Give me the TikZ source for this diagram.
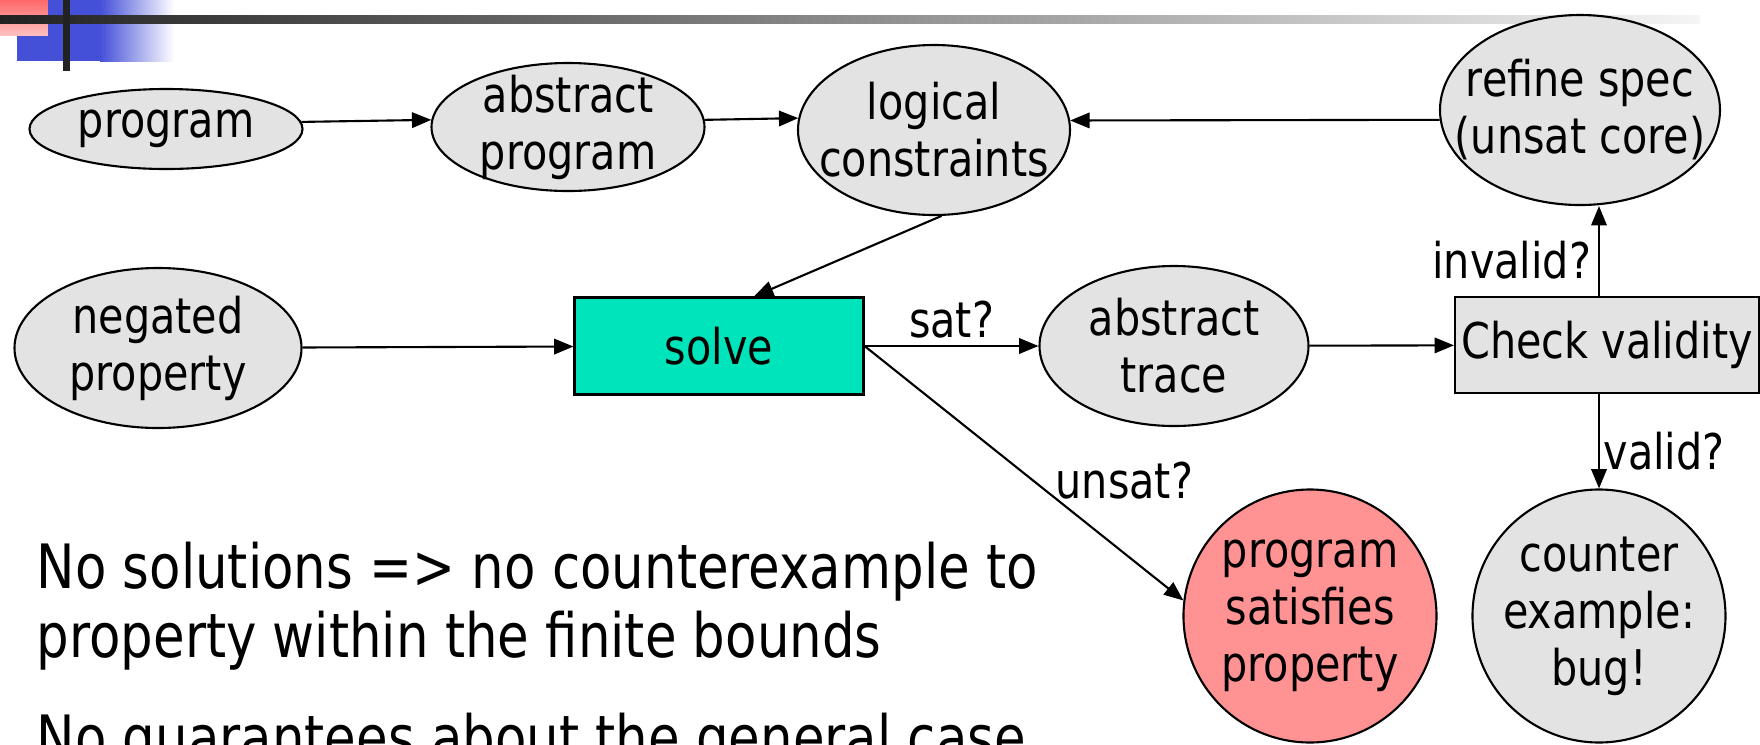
\documentclass[tikz,border=0pt]{standalone}
\usepackage{fontspec}
\setmainfont{DejaVu Sans}[FakeStretch=0.84]
\usepackage{tikz}
\usetikzlibrary{arrows.meta, positioning, shapes.geometric}

\definecolor{nodegray}{RGB}{227,227,227}
\definecolor{solvegreen}{RGB}{0,228,187}
\definecolor{okred}{RGB}{255,147,147}
\definecolor{barblue}{RGB}{68,80,216}
\definecolor{bardark}{RGB}{34,34,34}
\definecolor{barred}{RGB}{255,104,104}
\definecolor{barpink}{RGB}{255,192,192}

\newcommand\nodefont{\fontsize{14}{16.2}\selectfont}
\newcommand\notefont{\fontsize{17.4}{19.4}\selectfont}

\begin{document}
\begin{tikzpicture}[
    state/.style={ellipse, draw, line width=0.6pt, fill=nodegray, inner sep=-25pt, align=center, font=\nodefont},
    work box/.style={rectangle, draw, line width=0.6pt, inner sep=0pt, font=\nodefont},
    flow/.style={-{Triangle[length=5.5pt, width=4.4pt]}, line width=0.6pt},
    cond label/.style={font=\nodefont, inner sep=2pt}
]
    \useasboundingbox (0,0) rectangle (17.6,-7.44);

    % Slide title bar decoration
    \fill[barblue] (0.17,0) rectangle (1.00,-0.61);
    \shade[left color=barblue, right color=white] (1.00,0) rectangle (1.74,-0.61);
    \shade[top color=barred, bottom color=barpink] (0,0) rectangle (0.48,-0.35);
    \shade[left color=bardark, right color=white!96!black] (0,-0.15) rectangle (17.0,-0.23);
    \fill[bardark] (0.63,0) rectangle (0.70,-0.71);

    % Top row
    \node[state, minimum width=2.73cm, minimum height=0.80cm] (prog) at (1.66,-1.29) {program};
    \node[state, minimum width=2.73cm, minimum height=1.28cm] (absprog) at (5.68,-1.27) {abstract\\program};
    \node[state, minimum width=2.72cm, minimum height=1.70cm] (logic) at (9.34,-1.30) {logical\\constraints};
    \node[state, minimum width=2.80cm, minimum height=1.90cm] (refine) at (15.80,-1.10) {refine spec\\(unsat core)};

    % Middle row
    \node[state, minimum width=2.87cm, minimum height=1.60cm] (negprop) at (1.58,-3.48) {negated\\property};
    \node[work box, fill=solvegreen, minimum width=2.89cm, minimum height=0.97cm] (solve) at (7.19,-3.46) {solve};
    \node[state, minimum width=2.69cm, minimum height=1.60cm] (trace) at (11.74,-3.46) {abstract\\trace};
    \node[work box, fill=nodegray, minimum width=3.04cm, minimum height=0.96cm] (check) at (16.07,-3.45) {Check validity};

    % Bottom row
    \node[state, fill=okred, minimum width=2.53cm, minimum height=2.53cm] (sats) at (13.10,-6.16) {program\\satisfies\\property};
    \node[state, minimum width=2.53cm, minimum height=2.53cm] (counter) at (15.99,-6.16) {counter\\example:\\bug!};

    % Notes
    \node[font=\notefont, anchor=base west, align=left, inner sep=0pt] (note1) at (0.36,-6.57)
        {No solutions => no counterexample to\\property within the finite bounds};
    \node[font=\notefont, anchor=base west, inner sep=0pt] (note2) at (0.36,-7.59)
        {No guarantees about the general case};

    % Connectors
    \draw[flow] (prog.3.9) -- (absprog.177);
    \draw[flow] (absprog.3) -- (logic.175.8);
    \draw[flow] (refine.184.1) -- (logic.4.2);
    \draw[flow] (logic.275) -- ([xshift=3.5mm]solve.north);
    \draw[flow] (negprop) -- (solve);
    \draw[flow] (solve) -- (trace) node[cond label, midway, above] {sat?};
    \draw[flow] (trace) -- (check);
    \draw[flow] (check.north -| counter.north) -- (refine.south -| counter.north)
        node[cond label, pos=0.4, left] {invalid?};
    \draw[flow] (check.south -| counter.north) -- (counter.north)
        node[cond label, pos=0.6, right, inner sep=1pt] {valid?};
    \draw[flow] (solve.east) -- (sats.173)
        node[cond label, pos=0.53, right=4pt] {unsat?};
\end{tikzpicture}
\end{document}
